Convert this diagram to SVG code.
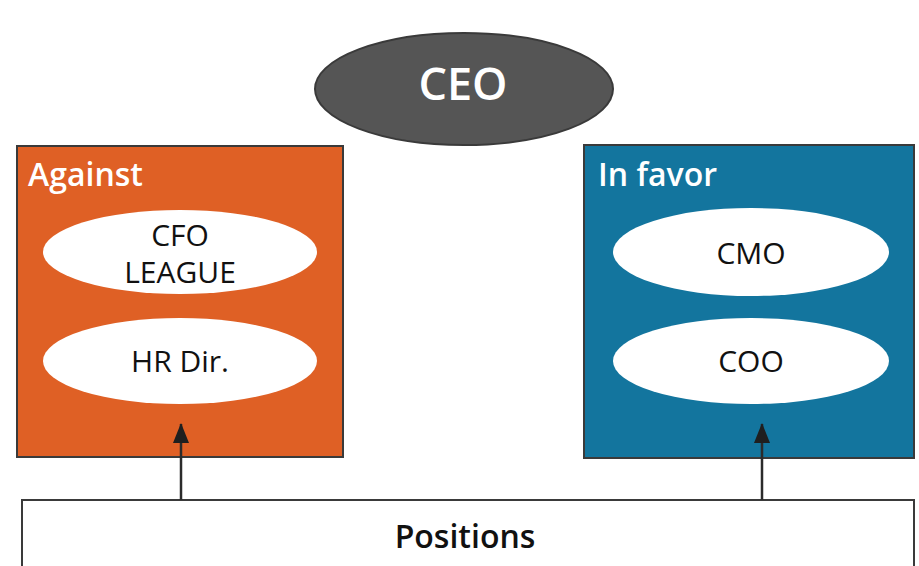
<svg xmlns="http://www.w3.org/2000/svg" width="919" height="566" viewBox="0 0 919 566">
<style>
.box{stroke:#3a3a3a;stroke-width:2}
.oval{fill:#ffffff;stroke:none}
.t{font-family:"Open Sans","Liberation Sans",sans-serif;text-anchor:middle;fill:#111}
.lbl{font-size:30px}
.hd{font-family:"Open Sans","Liberation Sans",sans-serif;font-weight:600;font-size:32px;fill:#ffffff}
.conn{stroke:#2b2b2b;stroke-width:2.5;fill:none}
</style>
<defs>
<marker id="arrh" viewBox="0 0 20 20" refX="19" refY="10" markerWidth="20" markerHeight="20" markerUnits="userSpaceOnUse" orient="auto">
<path d="M0,2 L20,10 L0,18 z" fill="#1f1f1f"/>
</marker>
</defs>
<rect width="919" height="566" fill="#ffffff"/>
<g id="ceo">
<ellipse cx="464" cy="89" rx="149" ry="56" fill="#555555" stroke="#3a3a3a" stroke-width="2"/>
<text x="463" y="100" class="t" style="fill:#ffffff;font-size:45px;font-weight:600">CEO</text>
</g>
<g id="against">
<rect x="17" y="146" width="326" height="311" fill="#df6025" class="box"/>
<text x="28" y="186" class="hd">Against</text>
</g>
<g id="cfo">
<ellipse cx="180" cy="252" rx="137" ry="42" class="oval"/>
<text x="180" y="246" class="t lbl">CFO</text>
<text x="180" y="283" class="t lbl">LEAGUE</text>
</g>
<g id="hr">
<ellipse cx="180" cy="361" rx="137" ry="43" class="oval"/>
<text x="180" y="372" class="t lbl">HR Dir.</text>
</g>
<g id="infavor">
<rect x="584" y="145" width="330" height="313" fill="#13759e" class="box"/>
<text x="598" y="186" class="hd">In favor</text>
</g>
<g id="cmo">
<ellipse cx="751" cy="252" rx="138" ry="44" class="oval"/>
<text x="751" y="264" class="t lbl">CMO</text>
</g>
<g id="coo">
<ellipse cx="751" cy="361" rx="138" ry="43" class="oval"/>
<text x="751" y="372" class="t lbl">COO</text>
</g>
<g id="positions">
<rect x="22" y="500" width="892" height="80" fill="#ffffff" class="box"/>
<text x="465" y="548" class="t" style="font-size:32px;font-weight:600">Positions</text>
</g>
<g id="connectors">
<line x1="181" y1="500" x2="181" y2="424" class="conn" marker-end="url(#arrh)"/>
<line x1="762" y1="500" x2="762" y2="424" class="conn" marker-end="url(#arrh)"/>
</g>
</svg>
